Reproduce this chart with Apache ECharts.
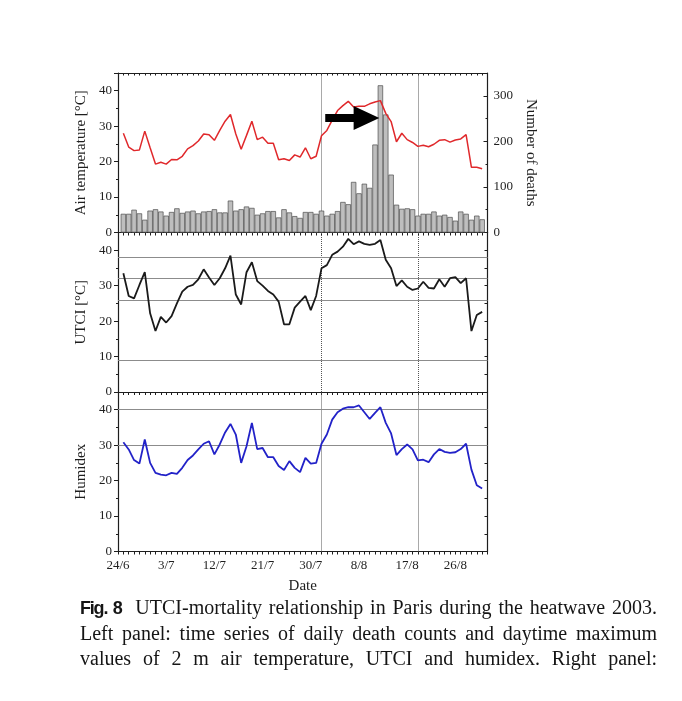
<!DOCTYPE html>
<html>
<head>
<meta charset="utf-8">
<script src="https://cdn.jsdelivr.net/npm/echarts@6/dist/echarts.min.js"></script>
<style>
    body { margin: 0; background: #fff; }
    #chart { position: absolute; left: 0; top: 0; width: 682px; height: 701px; }
    #caption { position: absolute; left: 80px; top: 595px; width: 577px;
        font-family: "Liberation Serif", "Times New Roman", serif; font-size: 20px; line-height: 25px; color: #151515; }
    #caption div { text-align: justify; text-align-last: justify; white-space: nowrap; }
    #caption b { font-family: "Liberation Sans", Arial, sans-serif; font-size: 18px; letter-spacing: -1.2px; }
</style>
</head>
<body>
<div id="chart"></div>
<div id="caption">
    <div><b>Fig. 8</b>&nbsp; UTCI-mortality relationship in Paris during the heatwave 2003.</div>
    <div>Left panel: time series of daily death counts and daytime maximum</div>
    <div>values of 2 m air temperature, UTCI and humidex. Right panel:</div>
</div>
<script type="text/javascript">
    // x = days after 24/6 (2003); data run from 25/6 to 31/8
    var dateLabels = ['24/6', '3/7', '12/7', '21/7', '30/7', '8/8', '17/8', '26/8'];
    var deaths = [41, 41, 50, 42, 28, 48, 51, 46, 37, 45, 53, 43, 46, 48, 42, 46, 47, 51, 44, 44,
        70, 48, 51, 57, 54, 39, 42, 47, 47, 33, 51, 44, 36, 32, 45,
        45, 41, 48, 37, 41, 47, 67, 62, 111, 86, 107, 98, 193, 323, 259, 127, 61, 52, 53, 51,
        37, 41, 41, 46, 37, 39, 34, 26, 46, 41, 28, 37, 29];
    var airTemp = [28.0, 24.1, 23.1, 23.3, 28.6, 23.9, 19.3, 19.8, 19.3, 20.6,
        20.5, 21.5, 23.6, 24.5, 25.8, 27.8, 27.6, 26.0, 28.8, 31.4,
        33.3, 27.8, 23.5, 27.4, 31.4, 26.2, 26.9, 25.2, 25.2, 20.5,
        20.8, 20.3, 21.9, 21.3, 23.9, 20.8, 21.5, 27.3, 28.8, 31.7,
        34.4, 35.8, 37.0, 35.4, 35.6, 35.6, 36.3, 36.8, 37.2, 33.6,
        31.3, 25.6, 28.0, 26.2, 25.4, 24.3, 24.6, 24.2, 24.9, 26.0,
        26.2, 25.5, 26.1, 26.4, 27.6, 18.4, 18.4, 18.0];
    var utci = [33.5, 27.1, 26.4, 30.2, 33.8, 22.2, 17.2, 21.2, 19.6, 21.4,
        25.0, 28.3, 29.7, 30.2, 31.8, 34.6, 32.3, 30.2, 32.1, 34.9,
        38.5, 27.5, 24.7, 33.8, 36.6, 31.3, 30.0, 28.5, 27.5, 25.5,
        19.1, 19.1, 23.8, 25.5, 27.1, 23.1, 27.1, 34.9, 35.8, 38.7,
        39.6, 41.0, 43.2, 41.7, 42.5, 41.8, 41.5, 41.8, 42.9, 37.3,
        34.9, 29.9, 31.5, 29.7, 28.8, 29.2, 31.1, 29.4, 29.2, 31.8,
        29.7, 32.1, 32.4, 30.7, 32.1, 17.2, 21.7, 22.6];
    var humidex = [30.8, 28.8, 25.8, 24.8, 31.6, 25.0, 22.2, 21.7, 21.5, 22.2,
        21.9, 23.6, 25.8, 27.1, 28.8, 30.4, 31.1, 27.4, 30.2, 33.6,
        36.0, 33.0, 25.0, 29.7, 36.3, 28.9, 29.2, 26.6, 26.6, 24.1,
        23.0, 25.5, 23.6, 22.4, 26.4, 24.8, 25.0, 30.4, 33.0, 37.2,
        39.3, 40.3, 40.7, 40.7, 41.2, 39.3, 37.4, 39.1, 40.7, 36.3,
        33.3, 27.2, 28.9, 30.2, 28.8, 25.7, 25.9, 25.2, 27.4, 28.9,
        28.1, 27.8, 28.0, 28.9, 30.4, 23.1, 18.7, 17.8];
    var heatwaveBounds = [38, 56];      // 1/8 and 19/8
    var utciLevels = [9, 26, 32, 38];
    var humidexLevels = [30, 40];
    // arrow in the top panel: tail, neck, tip (days) / centre, shaft half, head half (°C)
    var arrowDays = [38.7, 44.0, 48.8];
    var arrowTemps = [32.3, 1.15, 3.4];

    var days = deaths.map(function (v, i) { return i + 1; });
    function pairs(values) {
        return values.map(function (v, i) { return [days[i], v]; });
    }

    var serif = '"Liberation Serif", "Times New Roman", serif';
    var ink = '#1e1e1e';
    var gridTops = [73, 232.5, 392];
    var yNames = ['Air temperature [°C]', 'UTCI [°C]', 'Humidex'];

    var grids = [], xAxes = [], yAxes = [];
    gridTops.forEach(function (top, g) {
        grids.push({ left: 118, width: 369.5, top: top, height: 159.5 });
        // bottom + top date axes
        xAxes.push({
            type: 'value', gridIndex: g, position: 'bottom', min: 0, max: 69, interval: 1,
            axisLine: { show: true, onZero: false, lineStyle: { color: ink, width: 1.2 } },
            axisTick: { show: true, inside: false, length: 3, lineStyle: { color: ink } },
            axisLabel: {
                show: g === 2, color: ink, fontFamily: serif, fontSize: 13, margin: 8,
                formatter: function (v) { return v % 9 === 0 && v / 9 < dateLabels.length ? dateLabels[v / 9] : ''; }
            },
            splitLine: { show: false },
            name: g === 2 ? 'Date' : '', nameLocation: 'middle', nameGap: 27,
            nameTextStyle: { color: ink, fontFamily: serif, fontSize: 15 }
        });
        xAxes.push({
            type: 'value', gridIndex: g, position: 'top', min: 0, max: 69, interval: 1,
            axisLine: { show: true, onZero: false, lineStyle: { color: ink, width: 1.2 } },
            axisTick: { show: true, inside: true, length: 2.5, lineStyle: { color: ink } },
            axisLabel: { show: false }, splitLine: { show: false }
        });
        // left value axis
        yAxes.push({
            type: 'value', gridIndex: g, position: 'left', min: 0, max: 45, interval: 10,
            axisLine: { show: true, onZero: false, lineStyle: { color: ink, width: 1.2 } },
            axisTick: { show: true, inside: false, length: 4, lineStyle: { color: ink } },
            minorTick: { show: true, splitNumber: 2, length: 2, lineStyle: { color: ink } },
            axisLabel: { color: ink, fontFamily: serif, fontSize: 13, margin: 6, showMaxLabel: false },
            splitLine: { show: false },
            name: yNames[g], nameLocation: 'middle', nameGap: 24,
            nameTextStyle: { color: ink, fontFamily: serif, fontSize: 15 }
        });
        // right axis: deaths on top panel, plain frame ticks below
        if (g === 0) {
            yAxes.push({
                type: 'value', gridIndex: g, position: 'right', min: 0, max: 350, interval: 100,
                axisLine: { show: true, onZero: false, lineStyle: { color: ink, width: 1.2 } },
                axisTick: { show: true, inside: true, length: 4, lineStyle: { color: ink } },
                minorTick: { show: true, splitNumber: 2, length: 2, lineStyle: { color: ink } },
                axisLabel: { color: ink, fontFamily: serif, fontSize: 13, margin: 6, showMaxLabel: false },
                splitLine: { show: false },
                name: 'Number of deaths', nameLocation: 'middle', nameGap: 33, nameRotate: -90,
                nameTextStyle: { color: ink, fontFamily: serif, fontSize: 15 }
            });
        } else {
            yAxes.push({
                type: 'value', gridIndex: g, position: 'right', min: 0, max: 45, interval: 5,
                axisLine: { show: true, onZero: false, lineStyle: { color: ink, width: 1.2 } },
                axisTick: { show: true, inside: true, length: 3, lineStyle: { color: ink } },
                axisLabel: { show: false }, splitLine: { show: false }
            });
        }
    });

    function guideLines(levels) {
        var data = heatwaveBounds.map(function (d) {
            return { xAxis: d, lineStyle: { type: 'dotted', color: '#555', width: 1 } };
        });
        levels.forEach(function (y) {
            data.push({ yAxis: y, lineStyle: { type: 'solid', color: '#8c8c8c', width: 1.2 } });
        });
        return { silent: true, symbol: 'none', label: { show: false }, z: 1, animation: false, data: data };
    }

    var option = {
        animation: false,
        grid: grids,
        xAxis: xAxes,
        yAxis: yAxes,
        series: [
            {
                name: 'Deaths', type: 'bar', xAxisIndex: 0, yAxisIndex: 1, data: pairs(deaths),
                barWidth: '100%', z: 1, silent: true,
                itemStyle: { color: '#bebebe', borderColor: '#4d4d4d', borderWidth: 0.7 }
            },
            {
                name: 'Air temperature', type: 'line', xAxisIndex: 0, yAxisIndex: 0, data: pairs(airTemp),
                showSymbol: false, z: 3, lineStyle: { color: '#e0282b', width: 1.5 },
                markLine: guideLines([])
            },
            {
                name: 'UTCI', type: 'line', xAxisIndex: 2, yAxisIndex: 2, data: pairs(utci),
                showSymbol: false, z: 3, lineStyle: { color: '#1a1a1a', width: 1.8 },
                markLine: guideLines(utciLevels)
            },
            {
                name: 'Humidex', type: 'line', xAxisIndex: 4, yAxisIndex: 4, data: pairs(humidex),
                showSymbol: false, z: 3, lineStyle: { color: '#2222c8', width: 1.8 },
                markLine: guideLines(humidexLevels)
            }
        ]
    };

    var myChart = echarts.init(document.getElementById('chart'));
    myChart.setOption(option);

    // arrow pointing at the mortality peak
    var finder = { xAxisIndex: 0, yAxisIndex: 0 };
    var c = arrowTemps[0], s = arrowTemps[1], h = arrowTemps[2];
    var arrowPts = [
        [arrowDays[0], c + s], [arrowDays[1], c + s], [arrowDays[1], c + h], [arrowDays[2], c],
        [arrowDays[1], c - h], [arrowDays[1], c - s], [arrowDays[0], c - s]
    ].map(function (p) { return myChart.convertToPixel(finder, p); });
    myChart.setOption({
        graphic: [{ type: 'polygon', z: 10, shape: { points: arrowPts }, style: { fill: '#000' } }]
    });
</script>
</body>
</html>
